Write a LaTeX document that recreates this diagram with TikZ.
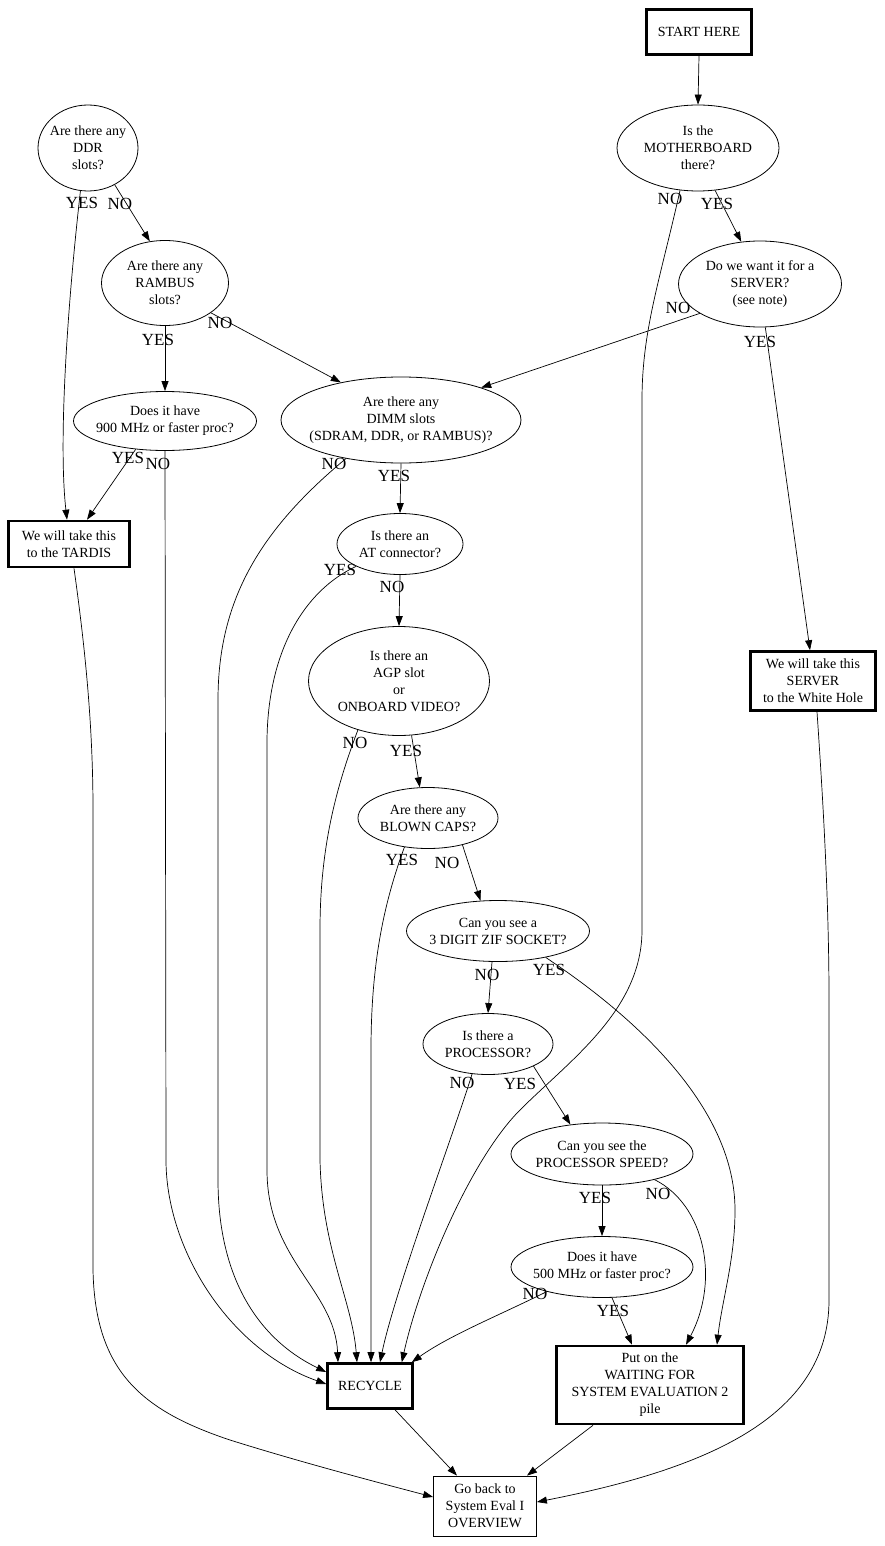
\documentclass[tikz,border=0pt]{standalone}
\usepackage{fontspec}
\setmainfont{Liberation Serif}
\usetikzlibrary{shapes.geometric, arrows.meta}

\begin{document}
\begin{tikzpicture}[
            x=1pt, y=-1pt,
            qNode/.style={draw=black, ellipse, inner sep=-15pt, align=center, line width=0.8pt, font=\fontsize{14}{17}\selectfont},
            bNode/.style={draw=black, rectangle, inner sep=0pt, align=center, line width=2.6pt, font=\fontsize{14}{17}\selectfont},
            tNode/.style={bNode, line width=0.8pt},
            lbl/.style={inner sep=0pt, font=\fontsize{17}{17}\selectfont},
            arr/.style={-{Triangle[length=10pt,width=7pt]}, line width=0.7pt}
        ]

        \useasboundingbox (0,0) rectangle (884,1546);

        % questions and ends
        \node [bNode, minimum width=105pt, minimum height=45pt] (start) at (699,32) {START HERE};
        \node [qNode, minimum width=162pt, minimum height=86pt] (mb) at (698,148) {Is the\\MOTHERBOARD\\there?};
        \node [qNode, minimum width=163pt, minimum height=86pt] (srv) at (760,284) {Do we want it for a\\SERVER?\\(see note)};
        \node [qNode, minimum width=100pt, minimum height=86pt] (ddr) at (88,148) {Are there any\\DDR\\slots?};
        \node [qNode, minimum width=127pt, minimum height=85pt] (rambus) at (165,283) {Are there any\\RAMBUS\\slots?};
        \node [qNode, minimum width=183pt, minimum height=59pt] (mhzA) at (165,421) {Does it have\\900 MHz or faster proc?};
        \node [qNode, minimum width=240pt, minimum height=86pt] (dimm) at (401,420) {Are there any\\DIMM slots\\(SDRAM, DDR, or RAMBUS)?};
        \node [bNode, minimum width=121pt, minimum height=46pt] (tardis) at (69,544) {We will take this\\to the TARDIS};
        \node [qNode, minimum width=126pt, minimum height=61pt] (atc) at (400,544) {Is there an\\AT connector?};
        \node [qNode, minimum width=181pt, minimum height=109pt] (agp) at (399,681) {Is there an\\AGP slot\\or\\ONBOARD VIDEO?};
        \node [bNode, minimum width=125pt, minimum height=59pt] (hole) at (813,681) {We will take this\\SERVER\\to the White Hole};
        \node [qNode, minimum width=140pt, minimum height=61pt] (caps) at (428,818) {Are there any\\BLOWN CAPS?};
        \node [qNode, minimum width=183pt, minimum height=61pt] (zif) at (498,931) {Can you see a\\3 DIGIT ZIF SOCKET?};
        \node [qNode, minimum width=130pt, minimum height=61pt] (proc) at (488,1044) {Is there a\\PROCESSOR?};
        \node [qNode, minimum width=182pt, minimum height=62pt] (speed) at (602,1154) {Can you see the\\PROCESSOR SPEED?};
        \node [qNode, minimum width=182pt, minimum height=61pt] (mhzB) at (602,1267) {Does it have\\500 MHz or faster proc?};
        \node [bNode, minimum width=85pt, minimum height=45pt] (rec) at (370,1386) {RECYCLE};
        \node [bNode, minimum width=187pt, minimum height=78pt] (wait) at (650,1385) {Put on the\\WAITING FOR\\SYSTEM EVALUATION 2\\pile};
        \node [tNode, minimum width=103pt, minimum height=60pt] (ovw) at (485,1506) {Go back to\\System Eval I\\OVERVIEW};

        % YES / NO
        \foreach \n/\x/\y/\t in {mbN/670/199/NO, mbY/717/204/YES, srvN/678/308/NO, srvY/760/342/YES,
                ddrY/82/203/YES, ddrN/120/204/NO, ramY/158/340/YES, ramN/220/323/NO,
                mhzAY/128/458/YES, mhzAN/158/464/NO, dimmN/334/464/NO, dimmY/394/476/YES,
                atcY/340/570/YES, atcN/392/587/NO, agpN/355/743/NO, agpY/406/751/YES,
                capsY/402/860/YES, capsN/447/863/NO, zifN/487/975/NO, zifY/549/970/YES,
                procN/462/1083/NO, procY/520/1084/YES, speedY/595/1198/YES, speedN/658/1194/NO,
                mhzBN/535/1294/NO, mhzBY/613/1311/YES}
            \node [lbl] (\n) at (\x,\y) {\t};

        \draw [arr] (start.south) -- (mb.north);
        \draw [arr] (mb.-68) -- (srv.114);
        \draw [arr] (mb.-113) .. controls (660,280) and (642,330) .. (642,400) -- (642,930)
            .. controls (642,1010) and (570,1060) .. (520,1110)
            .. controls (470,1160) and (420,1280) .. ([xshift=-12pt]rec.north east);
        \draw [arr] (srv.-154) -- (dimm.22);
        \draw [arr] (srv.-83) -- ([xshift=-3pt]hole.north);
        \draw [arr] ([xshift=4pt]hole.south) .. controls (823,800) and (829,900) .. (829,1000) -- (829,1300)
            .. controls (829,1420) and (700,1470) .. ([yshift=4pt]ovw.east);

        \draw [arr] (ddr.-100) .. controls (68,300) and (58,440) .. ([xshift=-2pt]tardis.north);
        \draw [arr] (ddr.-54) -- (rambus.110);
        \draw [arr] (rambus.south) -- (mhzA.north);
        \draw [arr] (rambus.-33) -- (dimm.148);
        \draw [arr] (mhzA.-136) -- ([xshift=18pt]tardis.north);
        \draw [arr] (mhzA.south) -- (166,1160) .. controls (166,1250) and (230,1350) .. ([yshift=2pt]rec.west);
        \draw [arr] ([xshift=5pt]tardis.south) .. controls (84,640) and (93,720) .. (93,810) -- (93,1270)
            .. controls (95,1370) and (140,1410) .. (230,1440)
            .. controls (300,1462) and (380,1483) .. ([yshift=9pt]ovw.west);

        \draw [arr] (dimm.-145) .. controls (260,530) and (218,600) .. (218,700) -- (218,1180)
            .. controls (218,1280) and (260,1340) .. ([yshift=14pt]rec.west);
        \draw [arr] (dimm.south) -- (atc.north);
        \draw [arr] (atc.-153) .. controls (305,590) and (268,650) .. (267,740) -- (267,1170)
            .. controls (267,1260) and (335,1290) .. ([xshift=-32pt]rec.north);
        \draw [arr] (atc.south) -- (agp.north);
        \draw [arr] (agp.-77) -- (caps.105);
        \draw [arr] (agp.-130) .. controls (335,790) and (320,850) .. (320,930) -- (320,1160)
            .. controls (322,1250) and (352,1300) .. ([xshift=-13pt]rec.north);
        \draw [arr] (caps.-38) -- (zif.120);
        \draw [arr] (caps.-129) .. controls (385,900) and (371,960) .. (371,1050) -- ([xshift=1pt]rec.north);
        \draw [arr] ([xshift=-6pt]zif.south) -- (proc.north);
        \draw [arr] (zif.-29) .. controls (640,1020) and (735,1110) .. (735,1210)
            .. controls (735,1260) and (722,1300) .. ([xshift=67pt]wait.north);
        \draw [arr] (proc.-26) -- (speed.137);
        \draw [arr] (proc.-118) .. controls (455,1130) and (395,1290) .. ([xshift=10pt]rec.north);
        \draw [arr] (speed.south) -- (mhzB.north);
        \draw [arr] (speed.-26) .. controls (705,1205) and (720,1280) .. ([xshift=36pt]wait.north);
        \draw [arr] (mhzB.-156) .. controls (500,1315) and (450,1335) .. ([xshift=-2pt]rec.north east);
        \draw [arr] (mhzB.-72) -- ([xshift=-18pt]wait.north);

        \draw [arr] ([xshift=25pt]rec.south) -- ([xshift=-28pt]ovw.north);
        \draw [arr] ([xshift=-57pt]wait.south) -- ([xshift=42pt]ovw.north);

    \end{tikzpicture}
\end{document}
